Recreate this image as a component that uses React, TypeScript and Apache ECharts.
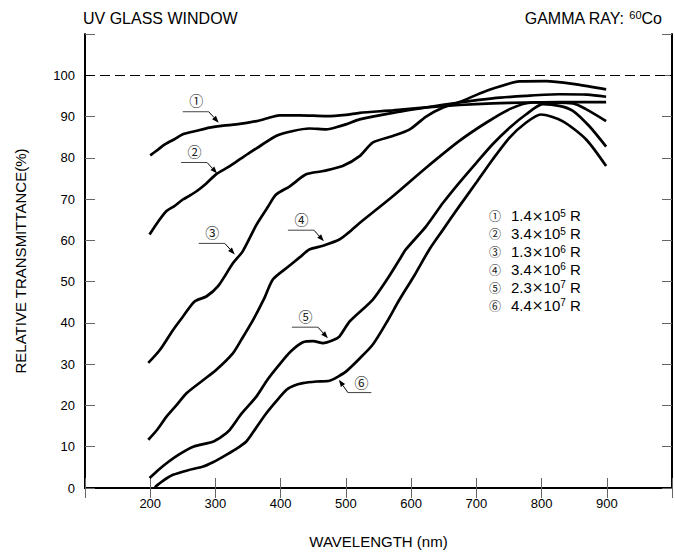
import React, { useEffect, useRef } from "react";
import * as echarts from "echarts";

// ---------- axes ----------
const X_MIN = 100;
const X_MAX = 1000;
const X_STEP = 100;
const Y_MIN = 0;
const Y_MAX = 110;
const Y_STEP = 10;
const X_TICK_LABELS = [200, 300, 400, 500, 600, 700, 800, 900];
const Y_TICK_LABELS = [0, 10, 20, 30, 40, 50, 60, 70, 80, 90, 100];
const REFERENCE_LEVEL = 100;

// ---------- series: [wavelength nm, relative transmittance %] ----------
const CURVE_1: [number, number][] = [
  [200, 80.6], [212, 82], [223, 83.3], [237, 84.5], [250, 85.7], [270, 86.5], [291, 87.3],
  [312, 87.8], [332, 88.1], [363, 88.9], [380, 89.6], [398, 90.3], [429, 90.3], [470, 90.1],
  [500, 90.4], [521, 90.9], [572, 91.5], [623, 92.2], [674, 92.8], [725, 93.2], [776, 93.4],
  [827, 93.5], [899, 93.5],
];
const CURVE_2: [number, number][] = [
  [199, 61.4], [212, 64.5], [225, 67.1], [237, 68.3], [250, 69.9], [260, 70.8], [271, 71.9],
  [286, 73.8], [301, 76], [320, 77.8], [337, 79.6], [352, 81.2], [368, 82.8], [393, 85.3],
  [419, 86.5], [444, 87.1], [470, 86.9], [485, 87.4], [500, 88.1], [521, 89.3], [572, 90.9],
  [623, 92.2], [674, 93.4], [725, 94.4], [776, 95], [827, 95.4], [870, 95.3], [899, 94.8],
];
const CURVE_3: [number, number][] = [
  [197, 30.3], [215, 33.5], [235, 38.3], [250, 41.5], [268, 45.2], [286, 46.4], [304, 48.9],
  [327, 54.5], [342, 57.4], [363, 63.8], [380, 68], [393, 71.1], [414, 73.1], [439, 76],
  [465, 76.8], [495, 78], [521, 80.4], [541, 83.7], [572, 85.3], [598, 86.9], [623, 90],
  [649, 92.2], [674, 93.5], [715, 96.2], [766, 98.5], [807, 98.6], [853, 97.8], [899, 96.6],
];
const CURVE_4: [number, number][] = [
  [197, 11.7], [210, 14], [225, 17.3], [240, 20], [256, 23], [280, 26], [301, 28.6],
  [327, 32.7], [340, 36], [358, 40.8], [375, 46], [388, 50.5], [409, 53.3], [430, 56],
  [444, 57.8], [465, 58.7], [490, 60.2], [505, 62], [521, 64.2], [572, 70.7], [623, 77.6],
  [674, 84.1], [715, 88.5], [751, 91.8], [786, 93.4], [848, 93.2], [868, 91.8], [899, 88.9],
];
const CURVE_5: [number, number][] = [
  [199, 2.4], [212, 4.3], [225, 6], [245, 8.2], [266, 10], [296, 11.2], [310, 12.5],
  [322, 14.1], [340, 18], [363, 22.2], [380, 26.3], [398, 29.9], [415, 33], [434, 35.3],
  [450, 35.6], [465, 35.1], [480, 35.8], [490, 36.7], [506, 40.4], [541, 45.6], [565, 51],
  [582, 55.3], [592, 57.8], [623, 63.4], [649, 69.1], [674, 74], [700, 78.8], [725, 83.3],
  [751, 87.3], [776, 90.5], [802, 93], [827, 92.6], [848, 91.4], [873, 87.7], [899, 82.7],
];
const CURVE_6: [number, number][] = [
  [207, 0.2], [220, 1.8], [235, 3.2], [258, 4.3], [281, 5.2], [297, 6.3], [312, 7.6],
  [330, 9.3], [347, 11.2], [362, 14.5], [378, 18.1], [393, 21], [409, 23.8], [420, 24.8],
  [434, 25.4], [455, 25.8], [475, 26], [488, 27], [500, 28.2], [520, 31.2], [541, 34.7],
  [562, 40], [582, 45.6], [605, 51.5], [628, 57.8], [649, 62.6], [674, 68.3], [700, 74],
  [725, 79.6], [751, 84.9], [776, 88.5], [799, 90.5], [832, 88.9], [868, 84.5], [899, 78],
];
const CURVES = [CURVE_1, CURVE_2, CURVE_3, CURVE_4, CURVE_5, CURVE_6];

// ---------- legend / labels ----------
const CURVE_MARKS = ["①", "②", "③", "④", "⑤", "⑥"];
const DOSE_MANTISSA = ["1.4", "3.4", "1.3", "3.4", "2.3", "4.4"];
const DOSE_EXPONENT = ["5", "5", "6", "6", "7", "7"];
const DOSE_UNIT = "R";
// where each curve's label arrow touches it (wavelength, %)
const ANNOTATION_TIPS: [number, number][] = [
  [305, 88.5], [302.5, 76.2], [329.6, 56.6], [466.3, 59.8], [472.4, 36.3], [489.3, 26.2],
];
const TITLE_LEFT = "UV GLASS WINDOW";
const TITLE_RIGHT_PREFIX = "GAMMA RAY: ";
const TITLE_RIGHT_ISOTOPE_MASS = "60";
const TITLE_RIGHT_ELEMENT = "Co";
const X_NAME = "WAVELENGTH (nm)";
const Y_NAME = "RELATIVE TRANSMITTANCE(%)";

const FONT = '"Liberation Sans", Arial, Helvetica, sans-serif';
const CJK = '"Noto Sans CJK JP", "Noto Sans CJK SC", sans-serif';
const SYM = '"DejaVu Sans", sans-serif';

export default function App() {
  const ref = useRef<HTMLDivElement>(null);

  useEffect(() => {
    if (!ref.current) return;
    const chart = echarts.init(ref.current, undefined, { renderer: "svg" });

    const axisLine = { show: true, lineStyle: { color: "#000", width: 2 } };
    const axisTick = { show: true, inside: true, length: 10, lineStyle: { color: "#666", width: 1 } };

    const option: any = {
      animation: false,
      backgroundColor: "#fff",
      grid: { left: 85, top: 34, right: 2, bottom: 71, containLabel: false },
      title: [
        {
          text: TITLE_LEFT,
          left: 83,
          top: 10,
          padding: 0,
          textStyle: { fontSize: 16, fontWeight: "normal", color: "#000", fontFamily: FONT },
        },
        {
          text: `{a|${TITLE_RIGHT_PREFIX}}{s|${TITLE_RIGHT_ISOTOPE_MASS}}{a|${TITLE_RIGHT_ELEMENT}}`,
          right: 13,
          top: 9,
          padding: 0,
          textStyle: {
            fontWeight: "normal",
            rich: {
              a: { fontSize: 16, fontWeight: "normal", color: "#000", fontFamily: FONT, lineHeight: 18 },
              s: { fontSize: 11, fontWeight: "normal", color: "#000", fontFamily: FONT, lineHeight: 11, verticalAlign: "top" },
            },
          },
        },
      ],
      xAxis: [
        {
          type: "value",
          min: X_MIN,
          max: X_MAX,
          interval: X_STEP,
          position: "bottom",
          name: X_NAME,
          nameLocation: "middle",
          nameGap: 46,
          nameTextStyle: { fontSize: 15, color: "#000", fontFamily: FONT },
          axisLine,
          axisTick,
          axisLabel: {
            formatter: (v: number) => (X_TICK_LABELS.includes(v) ? String(v) : ""),
            fontSize: 13,
            color: "#000",
            margin: 9,
            fontFamily: FONT,
          },
          splitLine: { show: false },
        },
        {
          type: "value",
          min: X_MIN,
          max: X_MAX,
          interval: X_STEP,
          position: "top",
          axisLine,
          axisTick,
          axisLabel: { show: false },
          splitLine: { show: false },
        },
      ],
      yAxis: [
        {
          type: "value",
          min: Y_MIN,
          max: Y_MAX,
          interval: Y_STEP,
          position: "left",
          name: Y_NAME,
          nameLocation: "middle",
          nameGap: 57,
          nameTextStyle: { fontSize: 15, color: "#000", fontFamily: FONT },
          axisLine,
          axisTick,
          axisLabel: {
            formatter: (v: number) => (Y_TICK_LABELS.includes(v) ? String(v) : ""),
            fontSize: 13,
            color: "#000",
            margin: 10,
            fontFamily: FONT,
          },
          splitLine: { show: false },
        },
        {
          type: "value",
          min: Y_MIN,
          max: Y_MAX,
          interval: Y_STEP,
          position: "right",
          axisLine,
          axisTick,
          axisLabel: { show: false },
          splitLine: { show: false },
        },
      ],
      series: CURVES.map((data, i) => ({
        type: "line",
        name: CURVE_MARKS[i],
        data,
        xAxisIndex: 0,
        yAxisIndex: 0,
        symbol: "none",
        smooth: 0.25,
        silent: true,
        lineStyle: { color: "#000", width: 2.7 },
        z: 3,
        markLine:
          i === 0
            ? {
                symbol: "none",
                silent: true,
                label: { show: false },
                lineStyle: { type: [10, 5], color: "#000", width: 1 },
                data: [{ yAxis: REFERENCE_LEVEL }],
              }
            : undefined,
      })),
    };
    chart.setOption(option);

    // annotations anchored on the curves through the chart's own coordinate system
    const graphics: any[] = [];
    ANNOTATION_TIPS.forEach((tip, i) => {
      const p = chart.convertToPixel({ gridIndex: 0 }, tip) as number[];
      const [tx, ty] = p;
      const below = i === 5;
      const elbow = below ? [tx + 9, ty + 12.7] : [tx - 10, ty - 11];
      const lineEnd = below ? [tx + 32.5, ty + 12.7] : [tx - 36, ty - 11];
      const textPos = below ? [tx + 22.5, ty + 2] : [tx - 22.5, ty - 22.5];
      const dx = tx - elbow[0];
      const dy = ty - elbow[1];
      const len = Math.hypot(dx, dy);
      const ux = dx / len;
      const uy = dy / len;
      const L = 7;
      const w = 2.6;
      const bx = tx - ux * L;
      const by = ty - uy * L;
      graphics.push(
        { type: "line", silent: true, shape: { x1: lineEnd[0], y1: lineEnd[1], x2: elbow[0], y2: elbow[1] }, style: { stroke: "#444", lineWidth: 1 }, z: 10 },
        { type: "line", silent: true, shape: { x1: elbow[0], y1: elbow[1], x2: bx, y2: by }, style: { stroke: "#000", lineWidth: 1 }, z: 10 },
        {
          type: "polygon",
          silent: true,
          shape: { points: [[tx, ty], [bx - uy * w, by + ux * w], [bx + uy * w, by - ux * w]] },
          style: { fill: "#000" },
          z: 10,
        },
        {
          type: "text",
          silent: true,
          x: textPos[0],
          y: textPos[1],
          style: { text: CURVE_MARKS[i], fontSize: 14, fontFamily: CJK, fill: "#222", align: "center", verticalAlign: "middle" },
          z: 10,
        }
      );
    });
    CURVE_MARKS.forEach((m, i) => {
      graphics.push({
        type: "text",
        silent: true,
        x: 489,
        y: 215.7 + i * 17.9,
        style: {
          text: `{c|${m}}{n|${DOSE_MANTISSA[i]}}{x|×}{n|10}{e|${DOSE_EXPONENT[i]}}{n| ${DOSE_UNIT}}`,
          verticalAlign: "middle",
          align: "left",
          rich: {
            c: { fontSize: 12, fontFamily: CJK, fill: "#222", width: 22, lineHeight: 15 },
            n: { fontSize: 15, fontFamily: FONT, fill: "#000", lineHeight: 15 },
            x: { fontSize: 14, fontFamily: SYM, fill: "#000", lineHeight: 15 },
            e: { fontSize: 10, fontFamily: FONT, fill: "#000", lineHeight: 10, verticalAlign: "top" },
          },
        },
        z: 10,
      });
    });
    chart.setOption({ graphic: graphics });

    return () => chart.dispose();
  }, []);

  return (
    <div
      ref={ref}
      style={{ position: "absolute", left: 0, top: 0, width: 675, height: 559, background: "#fff" }}
    />
  );
}
